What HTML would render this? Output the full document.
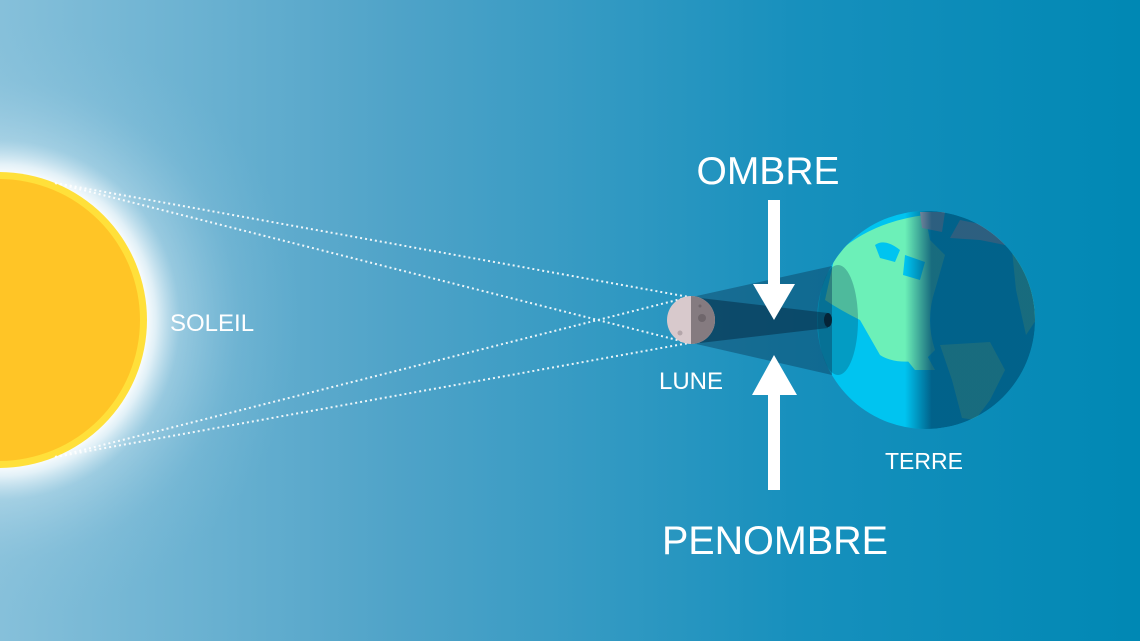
<!DOCTYPE html>
<html><head><meta charset="utf-8"><style>
html,body{margin:0;padding:0;width:1140px;height:641px;overflow:hidden}
svg{display:block}
text{font-family:"Liberation Sans",sans-serif;fill:#fff}
</style></head><body>
<svg width="1140" height="641" viewBox="0 0 1140 641" xmlns="http://www.w3.org/2000/svg">
<defs>
<linearGradient id="bg" x1="0" y1="0" x2="1" y2="0">
<stop offset="0" stop-color="#86c0da"/>
<stop offset="0.35" stop-color="#4fa3c8"/>
<stop offset="0.7" stop-color="#1790bd"/>
<stop offset="1" stop-color="#0088b4"/>
</linearGradient>
<radialGradient id="glow" cx="0" cy="320" r="300" gradientUnits="userSpaceOnUse">
<stop offset="0.48" stop-color="#ffffff" stop-opacity="1"/>
<stop offset="0.52" stop-color="#f4fafd" stop-opacity="0.85"/>
<stop offset="0.6" stop-color="#c8e3ef" stop-opacity="0.45"/>
<stop offset="0.8" stop-color="#a0cde2" stop-opacity="0.15"/>
<stop offset="1" stop-color="#8cc4dc" stop-opacity="0"/>
</radialGradient>
<linearGradient id="night" x1="905" y1="0" x2="1045" y2="0" gradientUnits="userSpaceOnUse">
<stop offset="0" stop-color="#01466e" stop-opacity="0"/>
<stop offset="0.19" stop-color="#01466e" stop-opacity="0.78"/>
<stop offset="1" stop-color="#01466e" stop-opacity="0.78"/>
</linearGradient>
<clipPath id="ec"><circle cx="926" cy="320" r="109"/></clipPath>
<clipPath id="mc"><circle cx="691" cy="320" r="24"/></clipPath>
</defs>
<rect width="1140" height="641" fill="url(#bg)"/>
<circle cx="0" cy="320" r="300" fill="url(#glow)"/>
<circle cx="-1" cy="320" r="148" fill="#ffe03a"/>
<circle cx="-1" cy="320" r="141" fill="#ffc526"/>
<g stroke="#fff" stroke-width="2" stroke-dasharray="2 3" opacity="0.9">
<line x1="55" y1="183" x2="689" y2="297"/>
<line x1="55" y1="183" x2="689" y2="343"/>
<line x1="55" y1="457" x2="689" y2="297"/>
<line x1="55" y1="457" x2="689" y2="343"/>
</g>
<text x="170" y="331" font-size="24">SOLEIL</text>
<!-- Earth -->
<g clip-path="url(#ec)">
<rect x="815" y="210" width="225" height="225" fill="#00c4f0"/>
<path d="M835 255 Q870 222 925 215 L930 240 L945 255 L935 290 Q925 320 935 350 L925 360 Q895 365 880 355 L860 320 Q840 310 825 300 Z" fill="#6cf0b8"/>
<path d="M875 245 Q885 238 900 250 L895 262 L880 258 Z" fill="#00c4f0"/>
<path d="M905 255 L925 262 L920 280 L903 275 Z" fill="#00c4f0"/>
<path d="M895 345 L925 352 L935 370 L915 370 Z" fill="#6cf0b8"/>
<path d="M940 345 L990 342 L1005 370 L990 400 L975 420 L962 418 L952 380 Z" fill="#6cf0b8"/>
<path d="M960 220 L1000 228 L1005 245 L980 240 L950 238 Z" fill="#c9b8bd"/>
<path d="M920 212 L945 212 L942 232 L922 228 Z" fill="#c9b8bd"/>
<path d="M1012 250 L1036 280 L1036 320 L1026 335 L1016 290 Z" fill="#6cf0b8"/>
<rect x="905" y="205" width="140" height="235" fill="url(#night)"/>
</g>
<!-- cones -->
<polygon points="692,297 832,266 832,375 692,343" fill="#0a3f5e" opacity="0.45"/>
<ellipse cx="838" cy="320" rx="20" ry="55" fill="#0a3f5e" opacity="0.3"/>
<polygon points="700,298 828,313 828,328 700,343" fill="#062f48" opacity="0.55"/>
<ellipse cx="828" cy="320" rx="4" ry="7" fill="#052538"/>
<!-- Moon -->
<g clip-path="url(#mc)">
<rect x="666" y="295" width="50" height="50" fill="#d8c9cc"/>
<rect x="691" y="295" width="25" height="50" fill="#857b80"/>
<circle cx="702" cy="318" r="4" fill="#6f666b"/>
<circle cx="680" cy="333" r="2.5" fill="#b4a6aa"/>
<circle cx="700" cy="306" r="1.5" fill="#6f666b"/>
</g>
<text x="659" y="389" font-size="24">LUNE</text>
<text x="885" y="469" font-size="23">TERRE</text>
<!-- arrows -->
<rect x="768" y="200" width="12" height="86" fill="#fff"/>
<polygon points="753,284 795,284 774,320" fill="#fff"/>
<rect x="768" y="393" width="12" height="97" fill="#fff"/>
<polygon points="752,395 797,395 774,355" fill="#fff"/>
<text x="768" y="184" font-size="39" text-anchor="middle">OMBRE</text>
<text x="775" y="554" font-size="39.5" text-anchor="middle">PENOMBRE</text>
</svg>
</body></html>
